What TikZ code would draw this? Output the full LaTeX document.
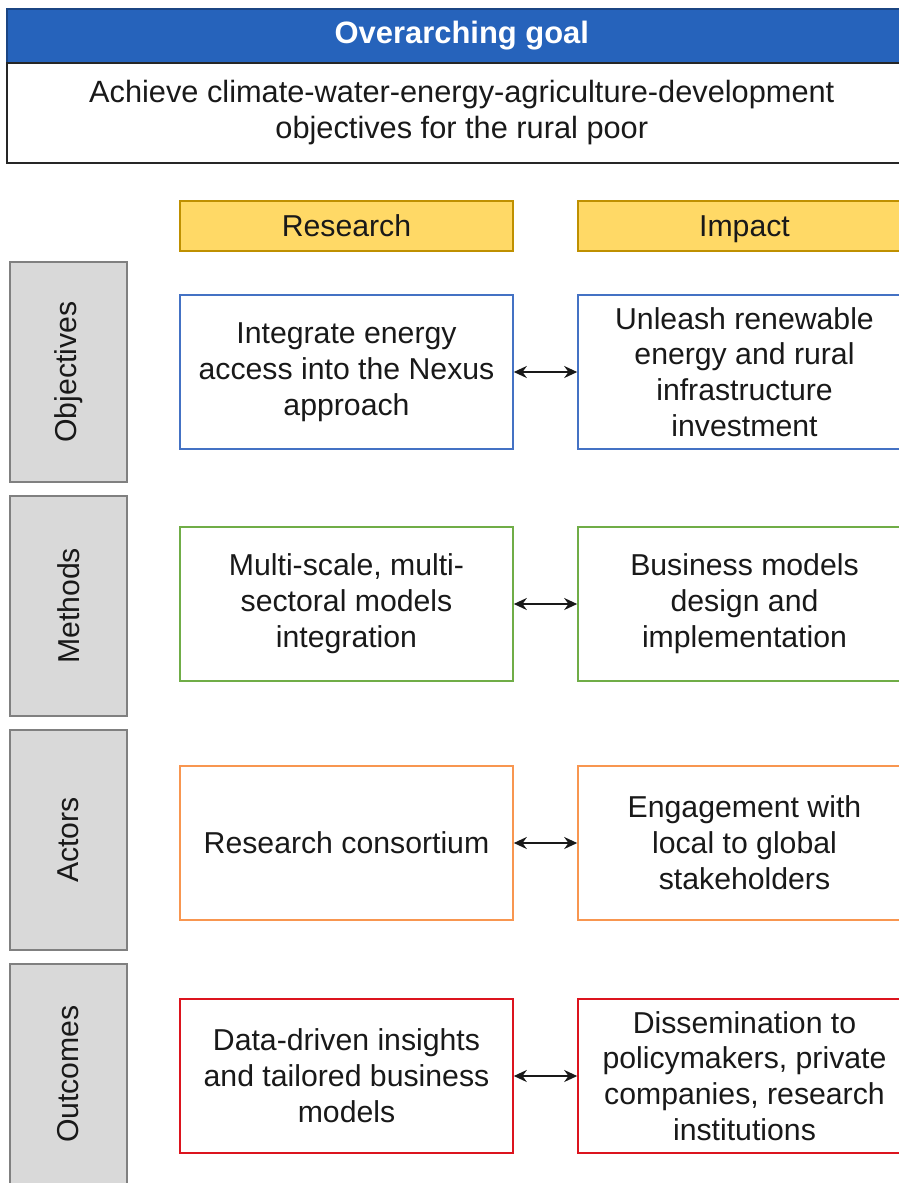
\documentclass[tikz,border=0pt]{standalone}
\usepackage{fontspec}
\setmainfont{Liberation Sans}
\usetikzlibrary{arrows.meta}
\definecolor{Az}{RGB}{38, 99, 187}
\definecolor{Am}{RGB}{255, 217, 102}
\definecolor{AmB}{RGB}{191, 144, 0}
\definecolor{Gr}{RGB}{217, 217, 217}
\definecolor{GrB}{RGB}{128, 128, 128}
\definecolor{Obj}{RGB}{68, 114, 196}
\definecolor{Met}{RGB}{112, 173, 71}
\definecolor{Act}{RGB}{248, 150, 80}
\definecolor{Out}{RGB}{220, 20, 30}

\tikzset{
  texto/.style={font=\fontsize{17.2}{20.4}\selectfont, align=center, text=black!90},
  cabeza/.style={texto, draw=AmB, fill=Am, line width=0.9pt, minimum width=6.66cm, minimum height=1cm, inner sep=0pt, text height=12.4pt, text depth=0pt},
  fila/.style={texto, draw=GrB, fill=Gr, line width=0.9pt, minimum width=2.34cm, minimum height=4.4cm, inner sep=0pt},
  caja/.style={texto, draw=#1, fill=white, line width=0.9pt, minimum width=6.66cm, minimum height=3.08cm, inner sep=0pt},
  flecha/.style={{Stealth[length=2.6mm, width=2.4mm]}-{Stealth[length=2.6mm, width=2.4mm]}, line width=1.1pt, black!90}
}

\begin{document}
\begin{tikzpicture}
	% Marco de la imagen
	\clip (0, 0) rectangle (17.98, -23.66);
	\useasboundingbox (0, 0) rectangle (17.98, -23.66);

	% Meta general
	\node[draw=Az!70!black, fill=Az, line width=0.9pt, minimum width=18.2cm, minimum height=1.08cm, anchor=north west, inner sep=0pt,
	      font=\fontsize{17.6}{20}\selectfont\bfseries, text=white] (meta) at (0.12, -0.16) {Overarching goal};
	\node[texto, font=\fontsize{17.5}{20.4}\selectfont, draw=black!85, line width=0.9pt, minimum width=18.2cm, minimum height=2cm, anchor=north west, inner sep=0pt]
	      (objetivo) at (0.12, -1.24) {Achieve climate-water-energy-agriculture-development\\objectives for the rural poor};

	% Columnas
	\node[cabeza] (inv) at (6.93, -4.52) {Research};
	\node[cabeza] (imp) at (14.89, -4.52) {Impact};

	% Filas
	\node[fila] (fobj) at (1.37, -7.44) {\rotatebox{90}{Objectives}};
	\node[fila] (fmet) at (1.37, -12.12) {\rotatebox{90}{Methods}};
	\node[fila] (fact) at (1.37, -16.80) {\rotatebox{90}{Actors}};
	\node[fila] (fout) at (1.37, -21.48) {\rotatebox{90}{Outcomes}};

	% Objetivos
	\node[caja=Obj] (obj1) at (6.93, -7.44) {Integrate energy\\access into the Nexus\\approach};
	\node[caja=Obj] (obj2) at (14.89, -7.44) {Unleash renewable\\energy and rural\\infrastructure\\investment};
	\draw[flecha] (obj1) -- (obj2);

	% Metodos
	\node[caja=Met] (met1) at (6.93, -12.08) {Multi-scale, multi-\\sectoral models\\integration};
	\node[caja=Met] (met2) at (14.89, -12.08) {Business models\\design and\\implementation};
	\draw[flecha] (met1) -- (met2);

	% Actores
	\node[caja=Act] (act1) at (6.93, -16.86) {Research consortium};
	\node[caja=Act] (act2) at (14.89, -16.86) {Engagement with\\local to global\\stakeholders};
	\draw[flecha] (act1) -- (act2);

	% Resultados
	\node[caja=Out] (out1) at (6.93, -21.52) {Data-driven insights\\and tailored business\\models};
	\node[caja=Out] (out2) at (14.89, -21.52) {Dissemination to\\policymakers, private\\companies, research\\institutions};
	\draw[flecha] (out1) -- (out2);
\end{tikzpicture}
\end{document}
